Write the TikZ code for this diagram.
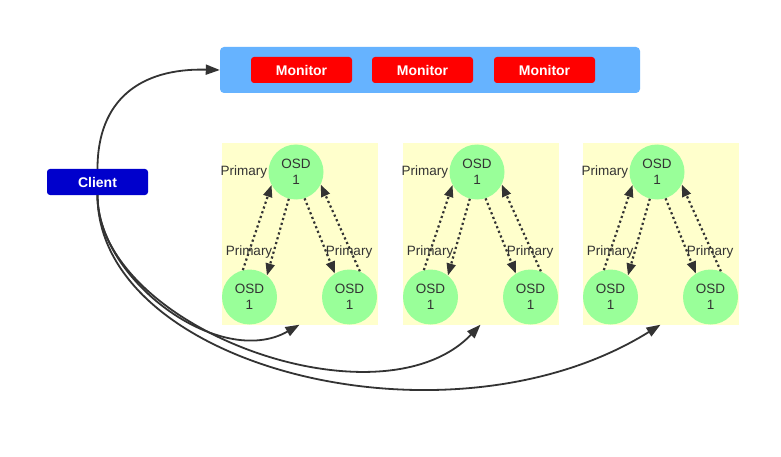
\documentclass[tikz,border=0pt]{standalone}
\usepackage{fontspec}
\setmainfont{Liberation Sans}
\usetikzlibrary{arrows.meta}
\definecolor{monblue}{HTML}{66B3FF}
\definecolor{monred}{HTML}{FF0000}
\definecolor{cliblue}{HTML}{0000CC}
\definecolor{osdyel}{HTML}{FFFFCC}
\definecolor{osdgreen}{HTML}{99FF99}
\definecolor{ink}{HTML}{333333}
\tikzset{
  boxmon/.style={fill=monred, rounded corners=3pt, minimum width=101pt, minimum height=26pt, inner sep=0pt,
    text=white, font=\fontsize{14}{16}\selectfont\bfseries},
  boxcli/.style={fill=cliblue, rounded corners=3pt, minimum width=101pt, minimum height=26pt, inner sep=0pt,
    text=white, font=\fontsize{14}{16}\selectfont\bfseries},
  osd/.style={circle, fill=osdgreen, minimum size=55pt, inner sep=0pt, text=ink,
    align=center, font=\fontsize{13.5}{16}\selectfont},
  grp/.style={fill=osdyel, minimum width=156pt, minimum height=181pt, inner sep=0pt},
  lbl/.style={text=ink, font=\fontsize{13.5}{16}\selectfont, inner sep=1pt},
  conn/.style={draw=ink, line width=1.8pt, -{Triangle[length=14pt,width=10pt]}},
  dots/.style={draw=ink, line width=2.2pt, dash pattern=on 2.2pt off 2.8pt, -{Triangle[length=12pt,width=9pt]}},
}
\begin{document}
\begin{tikzpicture}[x=1pt,y=-1pt]
\fill[white] (0,0) rectangle (781,457);
\useasboundingbox (0,0) rectangle (781,457);
% monitor cluster
\node[fill=monblue, rounded corners=4pt, minimum width=420pt, minimum height=46pt, inner sep=0pt] (mons) at (430,70) {};
\node[boxmon] (m1) at (301.5,70) {Monitor};
\node[boxmon] (m2) at (422.5,70) {Monitor};
\node[boxmon] (m3) at (544.5,70) {Monitor};
% client
\node[boxcli] (cli) at (97.5,182) {Client};
% groups
\foreach \i/\dx in {1/0,2/181,3/361}{
  \node[grp] (g\i) at (299.5+\dx,234) {};
  \node[osd] (t\i) at (296+\dx,172) {OSD\\1};
  \node[osd] (l\i) at (249.5+\dx,297) {OSD\\1};
  \node[osd] (r\i) at (349.5+\dx,297) {OSD\\1};
  \node[lbl, anchor=east] (pt\i) at (t\i.west) {Primary};
  \node[lbl] (pl\i) at (249+\dx,252) {Primary};
  \node[lbl] (pr\i) at (349+\dx,252) {Primary};
  \draw[dots] (l\i.104) -- (t\i.208);
  \draw[dots] (t\i.255) -- (l\i.51);
  \draw[dots] (t\i.288) -- (r\i.122);
  \draw[dots] (r\i.68) -- (t\i.333);
}
% client connectors
\draw[conn] (cli.north) .. controls (97.5,100) and (140,68) .. (mons.west);
\draw[conn] (cli.south) .. controls (97.5,280) and (220,370) .. (g1.south);
\draw[conn] (cli.south) .. controls (97.5,328) and (380,430) .. (g2.south);
\draw[conn] (cli.south) .. controls (97.5,368) and (450,456) .. (g3.south);
\end{tikzpicture}
\end{document}
